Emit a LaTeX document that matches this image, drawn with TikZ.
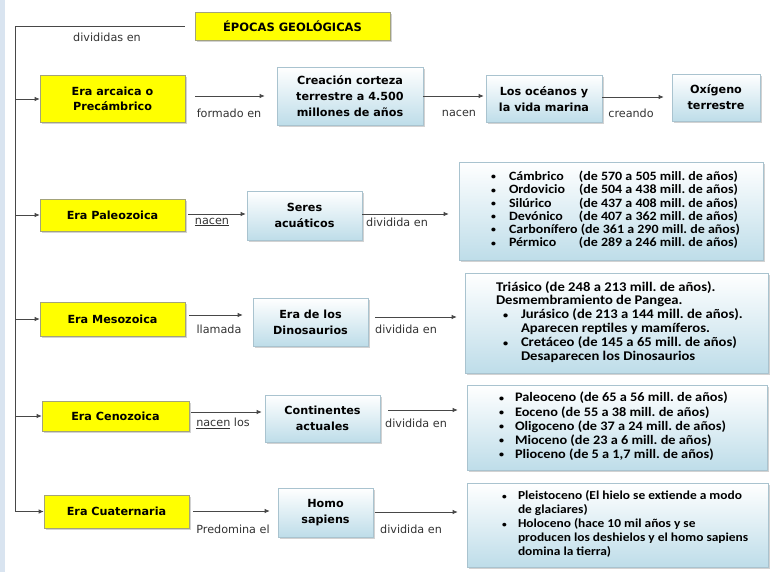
\documentclass[tikz,border=0pt]{standalone}
\usepackage{fontspec}
\usepackage{graphicx}
\setmainfont{DejaVu Sans}
\newfontfamily\listfont[FakeStretch=1.1]{Carlito}
\usetikzlibrary{shadows,arrows.meta}
\definecolor{yel}{HTML}{FFFF00}
\definecolor{yelborder}{HTML}{A3A37A}
\definecolor{bluebot}{HTML}{BEDDE9}
\definecolor{blueborder}{HTML}{A9C3CF}
\definecolor{linec}{HTML}{474747}
\definecolor{stripc}{HTML}{D9E4F0}
\frenchspacing
\newcommand\lb[1]{\makebox[#1][l]{\raisebox{0.12ex}{\scalebox{0.7}{\textbullet}}}}
\newcommand\lst[3]{\makebox[#1][l]{\hspace*{#2}\begin{tabular}{@{}l@{}}#3\end{tabular}}}
\begin{document}
\begin{tikzpicture}[x=1pt,y=-1pt,
  shad/.style={drop shadow={opacity=0.35,shadow xshift=1.6pt,shadow yshift=-1.6pt}},
  ybox/.style={draw=yelborder, fill=yel, line width=0.6pt, shad, align=center, inner sep=0pt,
    font=\fontsize{11.2}{14.5}\selectfont\bfseries},
  bbox/.style={draw=blueborder, top color=white, bottom color=bluebot, line width=0.6pt, shad,
    align=center, inner sep=0pt, font=\fontsize{11.2}{16}\selectfont\bfseries},
  lbox/.style={draw=blueborder, top color=white, bottom color=bluebot, line width=0.6pt, shad,
    inner sep=0pt},
  lab/.style={font=\fontsize{11.2}{13}\selectfont, text=black!80, inner sep=0pt},
  ln/.style={draw=linec, line width=0.7pt},
  arr/.style={ln, -{Latex[length=5pt,width=4.5pt]}}]
\useasboundingbox (0,0) rectangle (779,572);
\fill[white] (0,0) rectangle (779,572);
\fill[stripc] (0,0) rectangle (4.5,572);

% title
\node[ybox, minimum width=195pt, minimum height=28pt, font=\fontsize{11.5}{13}\selectfont\bfseries] (title) at (292.5,26) {ÉPOCAS GEOLÓGICAS};
\coordinate (bot) at (15,511.5);
\node[lab] (ldiv) at (107,37) {divididas en};

% row 1
\node[ybox, minimum width=145pt, minimum height=47pt] (arc) at (112.5,99) {Era arcaica o\\Precámbrico};
\node[bbox, minimum width=146pt, minimum height=58pt] (crea) at (350,96) {Creación corteza\\terrestre a 4.500\\millones de años};
\node[bbox, minimum width=116pt, minimum height=47pt] (ocea) at (544,99) {Los océanos y\\la vida marina};
\node[bbox, minimum width=88pt, minimum height=47pt] (oxi) at (716,97.5) {Oxígeno\\terrestre};
\node[lab] (l1a) at (229,113) {formado en};
\node[lab] (l1b) at (459,113) {nacen};
\node[lab] (l1c) at (631,113) {creando};

% row 2
\node[ybox, minimum width=145pt, minimum height=32pt] (pal) at (112.5,215) {Era Paleozoica};
\node[bbox, minimum width=115pt, minimum height=49pt] (ser) at (304.5,215.5) {Seres\\acuáticos};
\node[lbox, minimum width=304pt, minimum height=98pt] (lpal) at (611,211) {%
\listfont\fontsize{12.7}{12.8}\selectfont\bfseries
\lst{304pt}{32pt}{%
\lb{18pt}\makebox[70pt][l]{Cámbrico}(de 570 a 505 mill. de años)\\
\lb{18pt}\makebox[70pt][l]{Ordovicio}(de 504 a 438 mill. de años)\\
\lb{18pt}\makebox[70pt][l]{Silúrico}(de 437 a 408 mill. de años)\\
\lb{18pt}\makebox[70pt][l]{Devónico}(de 407 a 362 mill. de años)\\
\lb{18pt}Carbonífero (de 361 a 290 mill. de años)\\
\lb{18pt}\makebox[70pt][l]{Pérmico}(de 289 a 246 mill. de años)}};
\node[lab] (l2a) at (212,222) {\underline{nacen}};
\node[lab] (l2b) at (397,222) {dividida en};

% row 3
\node[ybox, minimum width=145pt, minimum height=34pt] (mes) at (112.5,319) {Era Mesozoica};
\node[bbox, minimum width=115pt, minimum height=48pt] (dino) at (310.5,322) {Era de los\\Dinosaurios};
\node[lbox, minimum width=303pt, minimum height=100pt] (lmes) at (616.5,323) {%
\listfont\fontsize{13.3}{13.8}\selectfont\bfseries
\lst{303pt}{31pt}{%
Triásico (de 248 a 213 mill. de años).\\
Desmembramiento de Pangea.\\
\hspace*{7pt}\lb{18pt}Jurásico (de 213 a 144 mill. de años).\\
\hspace*{25pt}Aparecen reptiles y mamíferos.\\
\hspace*{7pt}\lb{18pt}Cretáceo (de 145 a 65 mill. de años)\\
\hspace*{25pt}Desaparecen los Dinosaurios}};
\node[lab] (l3a) at (219,329) {llamada};
\node[lab] (l3b) at (406,329) {dividida en};

% row 4
\node[ybox, minimum width=147pt, minimum height=30pt] (cen) at (115.5,416) {Era Cenozoica};
\node[bbox, minimum width=115pt, minimum height=47pt] (cont) at (322.5,418.5) {Continentes\\actuales};
\node[lbox, minimum width=300pt, minimum height=85pt] (lcen) at (617,427.5) {%
\listfont\fontsize{13}{14.2}\selectfont\bfseries
\lst{300pt}{32pt}{%
\lb{16pt}Paleoceno (de 65 a 56 mill. de años)\\
\lb{16pt}Eoceno (de 55 a 38 mill. de años)\\
\lb{16pt}Oligoceno (de 37 a 24 mill. de años)\\
\lb{16pt}Mioceno (de 23 a 6 mill. de años)\\
\lb{16pt}Plioceno (de 5 a 1,7 mill. de años)}};
\node[lab] (l4a) at (223,423) {\underline{nacen} los};
\node[lab] (l4b) at (416,423) {dividida en};

% row 5
\node[ybox, minimum width=145pt, minimum height=33pt] (cua) at (116.5,511.5) {Era Cuaternaria};
\node[bbox, minimum width=95pt, minimum height=49pt] (homo) at (325.5,512.5) {Homo\\sapiens};
\node[lbox, minimum width=301pt, minimum height=84pt] (lcua) at (617.5,525) {%
\listfont\fontsize{12.2}{14}\selectfont\bfseries
\lst{301pt}{35pt}{%
\lb{16pt}Pleistoceno (El hielo se extiende a modo\\
\hspace*{16pt}de glaciares)\\
\lb{16pt}Holoceno (hace 10 mil años y se\\
\hspace*{16pt}producen los deshielos y el homo sapiens\\
\hspace*{16pt}domina la tierra)}};
\node[lab] (l5a) at (233,529) {Predomina el};
\node[lab] (l5b) at (411,529) {dividida en};

% trunk
\draw[ln] ([xshift=-10pt]title.west) -| (bot);
\draw[arr] (bot |- arc.west) -- (arc.west);
\draw[arr] (bot |- pal.west) -- (pal.west);
\draw[arr] (bot |- mes.west) -- (mes.west);
\draw[arr] (bot |- cen.west) -- (cen.west);
\draw[arr] (bot) -- (bot -| cua.west);

% row connectors
\draw[arr] ([xshift=10pt]arc.east |- 0,96) -- ([xshift=-12pt]crea.west |- 0,96);
\draw[arr] (crea.east |- 0,96) -- ([xshift=-2pt]ocea.west |- 0,96);
\draw[arr] (ocea.east |- 0,97) -- ([xshift=-8pt]oxi.west |- 0,97);
\draw[arr] ([xshift=3pt]pal.east |- 0,214) -- ([xshift=-1pt]ser.west |- 0,214);
\draw[arr] (ser.east |- 0,214) -- ([xshift=-10pt]lpal.west |- 0,214);
\draw[arr] ([xshift=4pt]mes.east |- 0,315) -- ([xshift=-10pt]dino.west |- 0,315);
\draw[arr] ([xshift=7pt]dino.east |- 0,317) -- ([xshift=-8pt]lmes.west |- 0,317);
\draw[arr] ([xshift=2pt]cen.east |- 0,412) -- ([xshift=-3pt]cont.west |- 0,412);
\draw[arr] ([xshift=8pt]cont.east |- 0,410) -- ([xshift=-9pt]lcen.west |- 0,410);
\draw[arr] ([xshift=4pt]cua.east |- 0,511) -- ([xshift=-8pt]homo.west |- 0,511);
\draw[arr] ([xshift=2pt]homo.east |- 0,512) -- ([xshift=-9pt]lcua.west |- 0,512);
\end{tikzpicture}
\end{document}
